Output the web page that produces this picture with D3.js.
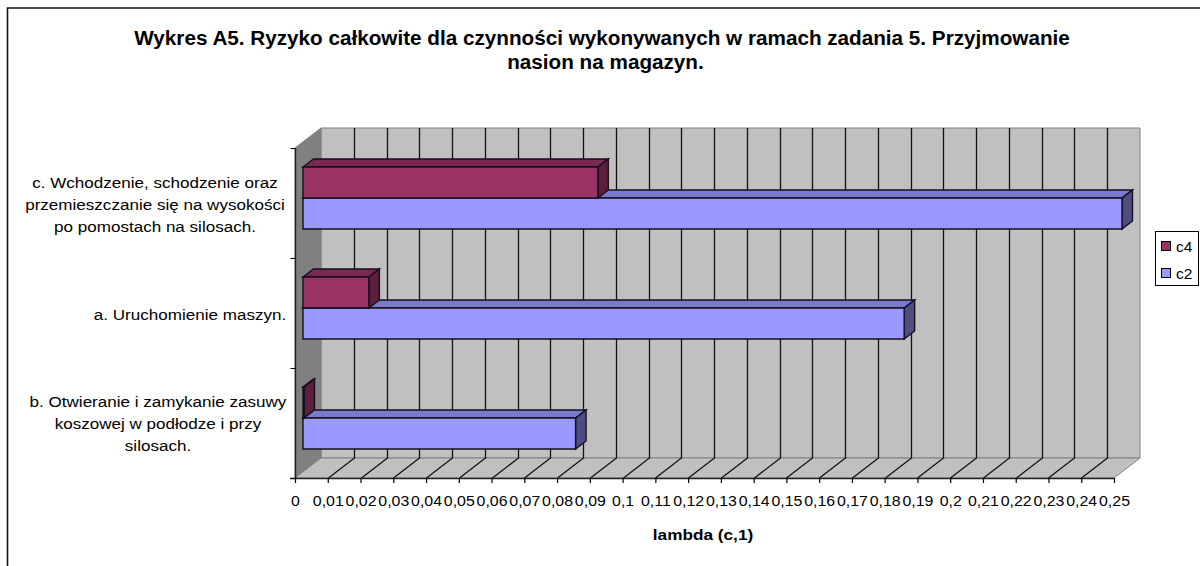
<!DOCTYPE html>
<html><head><meta charset="utf-8"><script src="https://cdn.jsdelivr.net/npm/d3@7"></script>
<style>html,body{margin:0;background:#fff}svg{display:block}text{font-family:"Liberation Sans",Arial,sans-serif;fill:#000}</style></head>
<body><svg id="c" width="1200" height="566"></svg>
<script>
const titleLines=["Wykres A5. Ryzyko całkowite dla czynności wykonywanych w ramach zadania 5. Przyjmowanie","nasion na magazyn."];
const categories=["c","a","b"];
const categoryLabels=[["c. Wchodzenie, schodzenie oraz","przemieszczanie się na wysokości","po pomostach na silosach."],["a. Uruchomienie maszyn."],["b. Otwieranie i zamykanie zasuwy","koszowej w podłodze i przy","silosach."]];
const seriesNames=["c4","c2"];
const c4Values=[0.09,0.0201,0.0003];
const c2Values=[0.25,0.1835,0.0832];
const tickValues=d3.range(0,26).map(i=>i/100);
const tickLabels=["0","0,01","0,02","0,03","0,04","0,05","0,06","0,07","0,08","0,09","0,1","0,11","0,12","0,13","0,14","0,15","0,16","0,17","0,18","0,19","0,2","0,21","0,22","0,23","0,24","0,25"];
const xAxisTitle="lambda (c,1)";
const colors={c4:["#993366","#7a2952","#5c1f3d"],c2:["#9999ff","#7a7acc","#4d4d80"]};

const svg=d3.select("#c");
const x=d3.scaleLinear().domain([0,0.25]).range([295,1114]);
const y=d3.scaleBand().domain(categories).range([148,478]);
const inner=d3.scaleBand().domain(seriesNames).range([19,81]);
const DX=26,bdx=10.5,bdy=8,ox=8;
// widen each text horizontally, as the stretched reference does
const stretch=(sel,k)=>sel.each(function(){
  const len=this.getComputedTextLength();
  d3.select(this).attr("textLength",len*k).attr("lengthAdjust","spacingAndGlyphs");
});
// border: top and left only
svg.append("path").attr("d","M1200,8H7.5V566").attr("fill","none").attr("stroke","#111").attr("stroke-width",1.6);
// title
const titleX=[602,605.5],titleY=[45,69];
svg.append("g").selectAll("text").data(titleLines).join("text").attr("x",(d,i)=>titleX[i]).attr("y",(d,i)=>titleY[i]).attr("text-anchor","middle").attr("font-weight","bold").attr("font-size",20).attr("fill","#111").text(d=>d).call(stretch,1.034);
// walls
const poly=(pts,fill,stroke)=>svg.append("polygon").attr("points",pts.map(p=>p.join(",")).join(" ")).attr("fill",fill).attr("stroke",stroke||"#808080").attr("stroke-width",1);
poly([[x(0)+DX,128],[x(.25)+DX,128],[x(.25)+DX,458],[x(0)+DX,458]],"#c0c0c0");
poly([[x(0),148],[x(0)+DX,128],[x(0)+DX,458],[x(0),478]],"#808080");
poly([[x(0),478],[x(0)+DX,458],[x(.25)+DX,458],[x(.25),478]],"#c0c0c0");
// gridlines
const grid=svg.append("g").attr("stroke","#111").attr("stroke-width",1.3).attr("fill","none");
tickValues.slice(1,-1).forEach(v=>{
  const px=Math.round(x(v))+.5;
  grid.append("path").attr("d",`M${px},478L${px+DX},458L${px+DX},128`);
});
// bars
function bar(g,cat,s,v,c){
  const y0=y(cat)+inner(s),h=inner.bandwidth(),l=x(0)+ox,r=x(0)+ox+(x(v)-x(0));
  const p=(pts,f)=>g.append("polygon").attr("points",pts.map(q=>q.join(",")).join(" ")).attr("fill",f).attr("stroke","#15101c").attr("stroke-width",1.4);
  p([[l,y0],[l+bdx,y0-bdy],[r+bdx,y0-bdy],[r,y0]],c[1]);
  p([[r,y0],[r+bdx,y0-bdy],[r+bdx,y0+h-bdy],[r,y0+h]],c[2]);
  p([[l,y0],[r,y0],[r,y0+h],[l,y0+h]],c[0]);
}
const gb=svg.append("g");
categories.slice().reverse().forEach(cat=>{
  const i=categories.indexOf(cat);
  bar(gb,cat,"c2",c2Values[i],colors.c2);
  bar(gb,cat,"c4",c4Values[i],colors.c4);
});
// axes
const xAxis=d3.axisBottom(x).tickValues(tickValues).tickFormat((d,i)=>tickLabels[i]).tickSize(5).tickPadding(12);
const gx=svg.append("g").attr("transform","translate(0,478)").call(xAxis);
gx.select(".domain").attr("stroke","#222").attr("stroke-width",1.4).attr("d",`M${x(0)-5},0.5H${x(.25)}`);
gx.selectAll("line").attr("stroke-width",1.2);
gx.selectAll("text").attr("font-size",15).attr("font-family","Liberation Sans").attr("fill","#111").call(stretch,1.06);
const yAxis=d3.axisLeft(d3.scaleLinear().domain([0,3]).range([478,148])).ticks(3).tickFormat("").tickSize(5);
const gy=svg.append("g").attr("transform","translate(295.5,0)").call(yAxis);
gy.select(".domain").attr("stroke","#222").attr("stroke-width",1.4).attr("d","M0,148.5V478");
// category labels
const labelCentres=[155,190,158],labelMid=[62,62,61];
categories.forEach((cat,i)=>{
  const ls=categoryLabels[i],mid=y(cat)+labelMid[i];
  svg.append("g").selectAll("text").data(ls).join("text").attr("x",labelCentres[i]).attr("text-anchor","middle").attr("font-size",15.5)
   .attr("y",(d,j)=>mid+(j-(ls.length-1)/2)*22).text(d=>d).attr("fill","#111").call(stretch,1.1);
});
stretch(svg.append("text").attr("x",703).attr("y",540).attr("text-anchor","middle").attr("font-weight","bold").attr("font-size",15.5).attr("fill","#111").text(xAxisTitle),1.11);
// legend
const lg=svg.append("g");
lg.append("rect").attr("x",1155.5).attr("y",231.5).attr("width",43).attr("height",54).attr("fill","#fff").attr("stroke","#000");
seriesNames.forEach((s,i)=>{
  lg.append("rect").attr("x",1161.5).attr("y",241.5+i*27).attr("width",9).attr("height",9).attr("fill",colors[s][0]).attr("stroke","#000");
  lg.append("text").attr("x",1176).attr("y",252+i*27).attr("font-size",15.5).attr("fill","#111").text(s);
});
</script></body></html>
